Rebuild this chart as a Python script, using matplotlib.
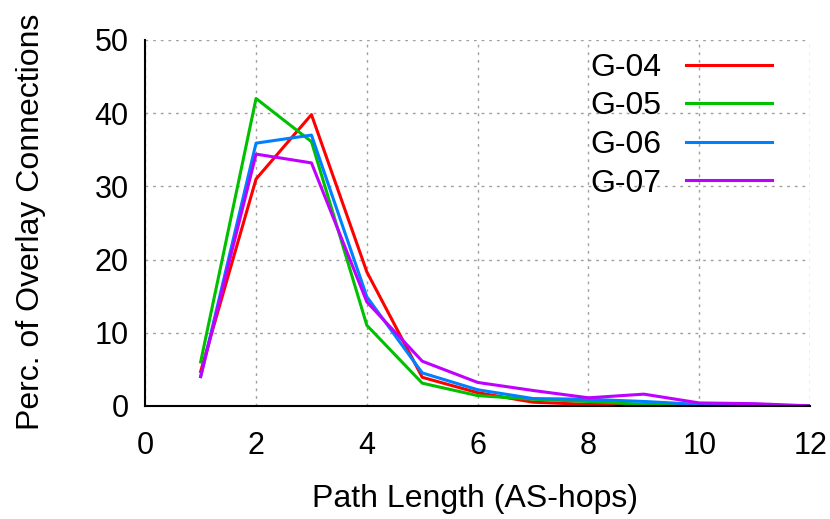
import matplotlib
matplotlib.use("Agg")
import matplotlib.pyplot as plt

plt.rcParams['font.family'] = ['Liberation Sans', 'DejaVu Sans']

hops = [1, 2, 3, 4, 5, 6, 7, 8, 9, 10, 11, 12]
series_names = ["G-04", "G-05", "G-06", "G-07"]
g04 = [4.7, 31.0, 39.8, 18.3, 3.9, 1.8, 0.5, 0.2, 0.1, 0.05, 0.02, 0.0]
g05 = [6.0, 42.0, 36.1, 11.0, 3.1, 1.4, 0.9, 0.6, 0.2, 0.1, 0.05, 0.0]
g06 = [4.0, 35.9, 37.0, 14.9, 4.5, 2.2, 1.0, 0.9, 0.6, 0.2, 0.1, 0.0]
g07 = [4.0, 34.4, 33.2, 14.2, 6.1, 3.2, 2.1, 1.1, 1.6, 0.4, 0.3, 0.0]
colors = ["#ff0000", "#00c000", "#0080ff", "#c000ff"]

fig = plt.figure(figsize=(8.30, 5.19), dpi=100)
ax = fig.add_axes([0.175, 0.218, 0.801, 0.705])

for vals, name, c in zip([g04, g05, g06, g07], series_names, colors):
    ax.plot(hops, vals, color=c, lw=2.2, label=name)

ax.set_xlim(0, 12)
ax.set_ylim(0, 50)
ax.set_xticks(range(0, 13, 2))
ax.set_yticks(range(0, 51, 10))
ax.grid(True, color="#a0a0a0", linestyle=(0, (2, 3.5)), linewidth=1.0)
ax.set_axisbelow(True)
for s in ["top", "right"]:
    ax.spines[s].set_visible(False)
for s in ["left", "bottom"]:
    ax.spines[s].set_linewidth(1.5)
ax.tick_params(axis="y", direction="in", length=0, labelsize=22, pad=12)
ax.tick_params(axis="x", direction="in", length=0, labelsize=22, pad=18)
ax.set_xlabel("Path Length (AS-hops)", fontsize=23)
ax.set_ylabel("Perc. of Overlay Connections", fontsize=23)
ax.xaxis.set_label_coords(0.496, -0.213)
ax.yaxis.set_label_coords(-0.150, 0.503)

leg = ax.legend(loc="upper right", frameon=False, markerfirst=False, fontsize=23,
                handlelength=2.7, handletextpad=0.75, labelspacing=0.27,
                borderaxespad=0.0, bbox_to_anchor=(0.962, 1.0))

fig.savefig("out.png", dpi=100)
